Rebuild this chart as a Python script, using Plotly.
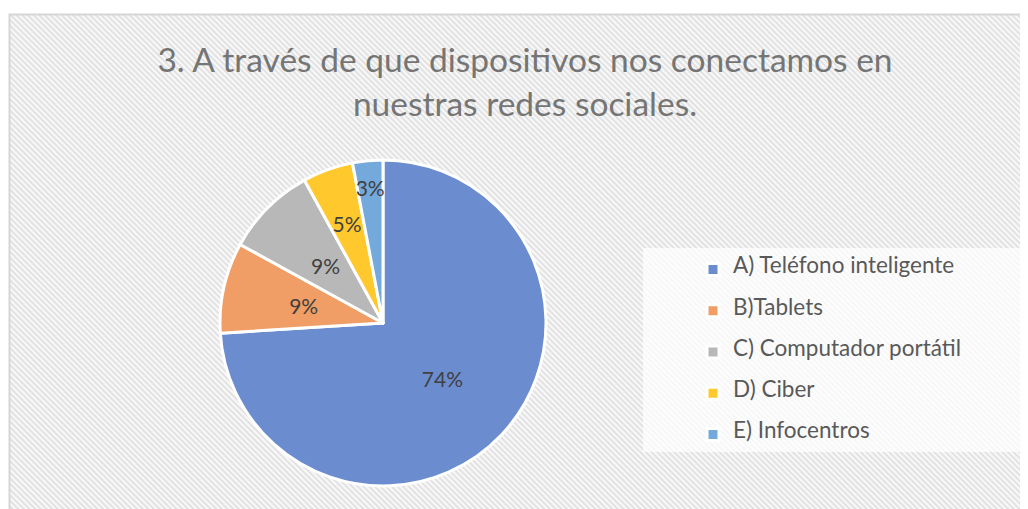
import base64
import plotly.graph_objects as go

W, H = 1028, 509
OFF = 8  # page body margin in the browser

categories = ["A) Teléfono inteligente", "B)Tablets", "C) Computador portátil", "D) Ciber", "E) Infocentros"]
values = [74, 9, 9, 5, 3]
colors = ["#6B8DD0", "#F09D66", "#B8B8B8", "#FFC92E", "#74A9DC"]
title_lines = ["3. A través de que dispositivos nos conectamos en", "nuestras redes sociales."]

FONT = "Lato"

svg = f'''<svg xmlns="http://www.w3.org/2000/svg" width="{W}" height="{H}" viewBox="0 0 {W} {H}">
<defs>
<pattern id="p" width="4" height="4" patternUnits="userSpaceOnUse" patternTransform="rotate(-45)">
<rect width="4" height="4" fill="#F8F8F8"/>
<rect width="2" height="4" fill="#E2E2E2"/>
</pattern>
</defs>
<rect x="0" y="0" width="{W}" height="{H}" fill="#FFFFFF"/>
<rect x="1.5" y="6.5" width="{W}" height="{H}" fill="url(#p)" stroke="#D6D6D6" stroke-width="2"/>
<rect x="635" y="240" width="{W}" height="204" fill="#FFFFFF" fill-opacity="0.72"/>
</svg>'''
uri = "data:image/svg+xml;base64," + base64.b64encode(svg.encode()).decode()

# pie geometry (figure pixels)
CX, CY, R = 375, 315, 163


def dom(r):
    return dict(x=[(CX - r) / W, (CX + r) / W], y=[1 - (CY + r) / H, 1 - (CY - r) / H])


legend_labels = [f' <br><span style="font-size:22.5px">{c}</span><br> ' for c in categories]
textfont = dict(family=FONT, size=21, color="#404040")


def pie(r, show_idx, main=False):
    tt = ["%{percent:.0%}" if i in show_idx else "" for i in range(len(values))]
    return go.Pie(
        labels=legend_labels,
        values=values,
        sort=False,
        direction="clockwise",
        rotation=0,
        marker=dict(colors=colors if main else ["rgba(0,0,0,0)"] * len(values),
                    line=dict(color="white", width=3 if main else 0)),
        texttemplate=tt,
        textposition="inside",
        insidetextorientation="horizontal",
        textfont=textfont,
        hoverinfo="skip",
        showlegend=main,
        domain=dom(r),
    )


fig = go.Figure()
fig.add_trace(pie(R, [0], main=True))
fig.add_trace(pie(104, [1, 2]))
fig.add_trace(pie(122.6, [3]))
fig.add_trace(pie(149, [4]))

fig.update_layout(
    width=W, height=H,
    margin=dict(l=0, r=0, t=0, b=0),
    paper_bgcolor="white",
    plot_bgcolor="rgba(0,0,0,0)",
    images=[dict(source=uri, xref="paper", yref="paper", x=0, y=1, sizex=1, sizey=1,
                 xanchor="left", yanchor="top", sizing="stretch", layer="below")],
    title=dict(text="<br>".join(title_lines), x=517 / W, xanchor="center",
               y=1 - 64 / H, yanchor="middle", yref="container",
               font=dict(family=FONT, size=33.5, color="#757575")),
    uniformtext=dict(minsize=21, mode="show"),
    showlegend=True,
    legend=dict(x=685 / W, xanchor="left", y=1 - 236 / H, yanchor="top",
                font=dict(family=FONT, size=9.8, color="#595959"),
                bgcolor="rgba(0,0,0,0)", borderwidth=0),
)

fig.write_html("out.html")
